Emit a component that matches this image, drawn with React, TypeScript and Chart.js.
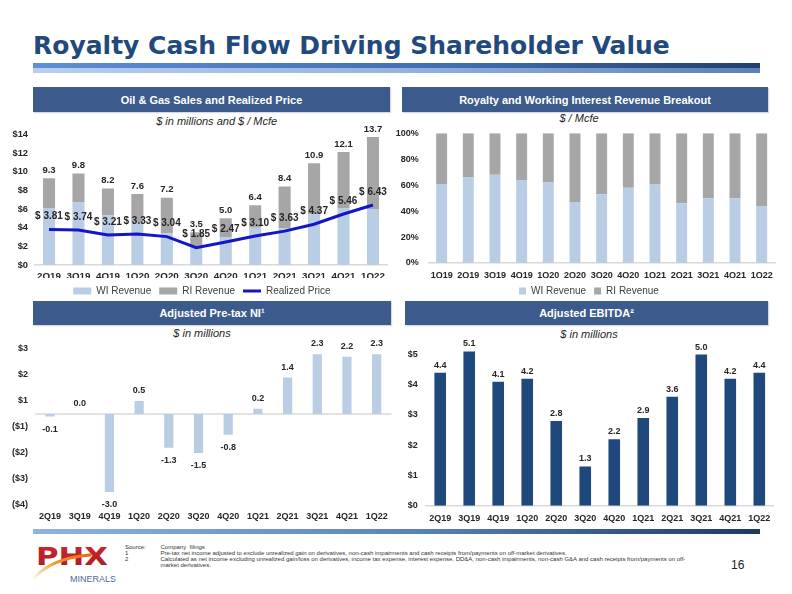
import React, { useEffect, useRef } from "react";
import { Chart, registerables } from "chart.js";

Chart.register(...registerables);

// ---------------- DATA ----------------
const QUARTERS = ["2Q19", "3Q19", "4Q19", "1Q20", "2Q20", "3Q20", "4Q20", "1Q21", "2Q21", "3Q21", "4Q21", "1Q22"];
const QUARTERS_BREAKOUT = ["1Q19", "2Q19", "3Q19", "4Q19", "1Q20", "2Q20", "3Q20", "4Q20", "1Q21", "2Q21", "3Q21", "4Q21", "1Q22"];

// Oil & Gas Sales ($ millions) and realized price ($ / Mcfe)
const WI_REVENUE = [6.1, 6.7, 5.3, 4.6, 3.4, 1.9, 3.0, 4.0, 3.9, 5.4, 6.1, 6.0];
const RI_REVENUE = [3.2, 3.1, 2.9, 3.0, 3.8, 1.6, 2.0, 2.4, 4.5, 5.5, 6.0, 7.7];
const TOTAL_LABELS = ["9.3", "9.8", "8.2", "7.6", "7.2", "3.5", "5.0", "6.4", "8.4", "10.9", "12.1", "13.7"];
const REALIZED_PRICE = [3.81, 3.74, 3.21, 3.33, 3.04, 1.85, 2.47, 3.1, 3.63, 4.37, 5.46, 6.43];

// Royalty / working interest share (%)
const WI_SHARE = [61, 66, 68, 64, 62, 47, 53, 58, 60.5, 46, 50, 50, 44];
const RI_SHARE = [39, 34, 32, 36, 38, 53, 47, 42, 39.5, 54, 50, 50, 56];

// Adjusted pre-tax NI ($ millions)
const PRETAX_NI = [-0.1, 0.0, -3.0, 0.5, -1.3, -1.5, -0.8, 0.2, 1.4, 2.3, 2.2, 2.3];
const PRETAX_TICK_VALUES = [-3.5, -2.5, -1.5, -0.5, 0.5, 1.5, 2.5];
const PRETAX_TICK_LABELS = ["($4)", "($3)", "($2)", "($1)", "$1", "$2", "$3"];

// Adjusted EBITDA ($ millions)
const EBITDA = [4.4, 5.1, 4.1, 4.2, 2.8, 1.3, 2.2, 2.9, 3.6, 5.0, 4.2, 4.4];

// ---------------- STYLE ----------------
const FONT = '"Liberation Sans", Arial, Helvetica, sans-serif';
const WI_COLOR = "#b9cde5";
const RI_COLOR = "#a6a6a6";
const LINE_COLOR = "#1515c8";
const NAVY = "#1f497d";
const HEADER_BG = "#3c5b8c";
const AXIS_LINE = "#d9d9d9";
const TEXT = "#262626";

Chart.defaults.font.family = FONT;
Chart.defaults.color = TEXT;

type Box = { left: number; top: number; width: number; height: number; areaLeft: number; areaRight: number; areaTop: number; areaBottom: number; xH: number; legendH: number; labelRight: number; legendShift: number };

// y axis box occupies the canvas from its left edge to the plot area
const yWidth = (b: Box) => b.areaLeft - b.left;
function padFor(b: Box) {
  return {
    left: 0,
    right: b.left + b.width - b.areaRight,
    top: b.areaTop - b.top,
    bottom: Math.max(0, b.top + b.height - b.areaBottom - b.xH - b.legendH),
  };
}
const yTickPad = (b: Box) => b.areaLeft - b.labelRight;

function fix(size: number) {
  return (scale: any) => {
    if (scale.isHorizontal()) scale.height = size;
    else scale.width = size;
  };
}

const shiftLegend = (dx: number) => ({
  id: "shiftLegend",
  afterLayout(chart: any) {
    if (chart.legend && dx) {
      chart.legend.left += dx;
      chart.legend.right += dx;
    }
  },
});

function legendOptions(boxW: number) {
  return {
    display: true,
    position: "bottom" as const,
    align: "center" as const,
    labels: {
      usePointStyle: true,
      pointStyleWidth: boxW,
      boxHeight: 7,
      padding: 8,
      color: "#404040",
      font: { size: 10, family: FONT },
      sort: (a: any, b: any) => a.datasetIndex - b.datasetIndex,
      generateLabels: (chart: any) => {
        const base = (Chart.defaults.plugins.legend.labels as any).generateLabels(chart);
        return base.map((it: any) => {
          const ds = chart.data.datasets[it.datasetIndex];
          const isLine = ds.type === "line";
          return { ...it, pointStyle: isLine ? "line" : "rect", lineWidth: isLine ? 3 : 0, strokeStyle: isLine ? ds.borderColor : it.strokeStyle };
        });
      },
    },
  };
}

const catAxis = (xH: number, pad: number, border: boolean, size = 9) => ({
  type: "category" as const,
  offset: true,
  grid: { display: false, drawTicks: false },
  border: { display: border, color: AXIS_LINE, width: 1.5 },
  ticks: { font: { size, weight: "bold" as const }, color: TEXT, padding: pad, maxRotation: 0, autoSkip: false },
  afterFit: fix(xH),
});

const valueAxis = (b: Box, extra: any, size = 9) => ({
  grid: { display: false, drawTicks: false },
  border: { display: false },
  afterFit: fix(yWidth(b)),
  ...extra,
  ticks: { padding: yTickPad(b), font: { size, weight: "bold" }, color: TEXT, autoSkip: false, ...extra.ticks },
});

// -------- chart 1: Oil & Gas Sales and Realized Price --------
const BOX1: Box = { left: 0, top: 112, width: 396, height: 194, areaLeft: 34.3, areaRight: 387.7, areaTop: 134.3, areaBottom: 265, xH: 13, legendH: 28, labelRight: 28, legendShift: 8 };
function config1(): any {
  const labelsPlugin = {
    id: "c1labels",
    afterDatasetsDraw(chart: any) {
      const ctx = chart.ctx;
      const ri = chart.getDatasetMeta(1);
      const line = chart.getDatasetMeta(2);
      ctx.save();
      ctx.fillStyle = TEXT;
      ctx.textAlign = "center";
      ctx.textBaseline = "middle";
      ctx.font = `bold 9.5px ${FONT}`;
      ri.data.forEach((el: any, i: number) => ctx.fillText(TOTAL_LABELS[i], el.x, el.y - 8));
      ctx.font = `bold 10px ${FONT}`;
      line.data.forEach((pt: any, i: number) => ctx.fillText("$ " + REALIZED_PRICE[i].toFixed(2), pt.x, pt.y - 13));
      ctx.restore();
    },
  };
  return {
    type: "bar",
    data: {
      labels: QUARTERS,
      datasets: [
        { label: "WI Revenue", data: WI_REVENUE, backgroundColor: WI_COLOR, stack: "rev", order: 2, categoryPercentage: 1, barPercentage: 0.41 },
        { label: "RI Revenue", data: RI_REVENUE, backgroundColor: RI_COLOR, stack: "rev", order: 2, categoryPercentage: 1, barPercentage: 0.41 },
        { type: "line", label: "Realized Price", data: REALIZED_PRICE, borderColor: LINE_COLOR, backgroundColor: LINE_COLOR, borderWidth: 3, pointRadius: 0, tension: 0, order: 0 },
      ],
    },
    options: {
      responsive: false,
      animation: false,
      devicePixelRatio: 1,
      layout: { padding: padFor(BOX1) },
      plugins: { legend: legendOptions(18), tooltip: { enabled: false } },
      scales: {
        x: { ...catAxis(BOX1.xH, 5.5, true, 9.8), stacked: true },
        y: valueAxis(BOX1, { stacked: true, min: 0, max: 14, ticks: { stepSize: 2, callback: (v: any) => "$" + v } }, 9.3),
      },
    },
    plugins: [labelsPlugin, shiftLegend(BOX1.legendShift)],
  };
}

// -------- chart 2: Royalty and Working Interest Revenue Breakout --------
const BOX2: Box = { left: 396, top: 112, width: 392, height: 194, areaLeft: 428.3, areaRight: 775, areaTop: 133.3, areaBottom: 264, xH: 15, legendH: 28, labelRight: 418.7, legendShift: 3.5 };
function config2(): any {
  return {
    type: "bar",
    data: {
      labels: QUARTERS_BREAKOUT,
      datasets: [
        { label: "WI Revenue", data: WI_SHARE, backgroundColor: WI_COLOR, stack: "s", categoryPercentage: 1, barPercentage: 0.41 },
        { label: "RI Revenue", data: RI_SHARE, backgroundColor: RI_COLOR, stack: "s", categoryPercentage: 1, barPercentage: 0.41 },
      ],
    },
    options: {
      responsive: false,
      animation: false,
      devicePixelRatio: 1,
      layout: { padding: padFor(BOX2) },
      plugins: { legend: legendOptions(7), tooltip: { enabled: false } },
      scales: {
        x: { ...catAxis(BOX2.xH, 7, true), stacked: true },
        y: valueAxis(BOX2, { stacked: true, min: 0, max: 100, ticks: { stepSize: 20, callback: (v: any) => v + "%" } }),
      },
    },
    plugins: [shiftLegend(BOX2.legendShift)],
  };
}

// -------- chart 3: Adjusted Pre-tax NI --------
const BOX3: Box = { left: 0, top: 326, width: 396, height: 201, areaLeft: 35.2, areaRight: 391.5, areaTop: 349, areaBottom: 505, xH: 22, legendH: 0, labelRight: 28, legendShift: 0 };
function config3(): any {
  const plugin = {
    id: "c3extras",
    beforeDatasetsDraw(chart: any) {
      const { ctx, chartArea } = chart;
      const y0 = chart.scales.y.getPixelForValue(0);
      ctx.save();
      ctx.strokeStyle = AXIS_LINE;
      ctx.lineWidth = 1.5;
      ctx.beginPath();
      ctx.moveTo(chartArea.left, y0);
      ctx.lineTo(chartArea.right, y0);
      ctx.stroke();
      ctx.restore();
    },
    afterDatasetsDraw(chart: any) {
      const ctx = chart.ctx;
      const meta = chart.getDatasetMeta(0);
      ctx.save();
      ctx.fillStyle = TEXT;
      ctx.textAlign = "center";
      ctx.textBaseline = "middle";
      ctx.font = `bold 9px ${FONT}`;
      meta.data.forEach((el: any, i: number) => {
        const v = PRETAX_NI[i];
        const y = v >= 0 ? el.y - 10.5 : el.y + 13;
        ctx.fillText(v.toFixed(1), el.x, y);
      });
      ctx.restore();
    },
  };
  return {
    type: "bar",
    data: {
      labels: QUARTERS,
      datasets: [{ label: "Adjusted Pre-tax NI", data: PRETAX_NI, backgroundColor: WI_COLOR, categoryPercentage: 1, barPercentage: 0.31 }],
    },
    options: {
      responsive: false,
      animation: false,
      devicePixelRatio: 1,
      layout: { padding: padFor(BOX3) },
      plugins: { legend: { display: false }, tooltip: { enabled: false } },
      scales: {
        x: catAxis(BOX3.xH, 6, false),
        y: valueAxis(BOX3, {
          min: PRETAX_TICK_VALUES[0],
          max: PRETAX_TICK_VALUES[PRETAX_TICK_VALUES.length - 1],
          afterBuildTicks: (scale: any) => {
            scale.ticks = PRETAX_TICK_VALUES.map((v) => ({ value: v }));
          },
          ticks: { callback: (_v: any, i: number) => PRETAX_TICK_LABELS[i] },
        }),
      },
    },
    plugins: [plugin],
  };
}

// -------- chart 4: Adjusted EBITDA --------
const BOX4: Box = { left: 396, top: 326, width: 396, height: 202, areaLeft: 425.7, areaRight: 773.8, areaTop: 332.45, areaBottom: 505.7, xH: 22, legendH: 0, labelRight: 417.7, legendShift: 0 };
function config4(): any {
  const plugin = {
    id: "c4labels",
    afterDatasetsDraw(chart: any) {
      const ctx = chart.ctx;
      const meta = chart.getDatasetMeta(0);
      ctx.save();
      ctx.fillStyle = TEXT;
      ctx.textAlign = "center";
      ctx.textBaseline = "middle";
      ctx.font = `bold 9px ${FONT}`;
      meta.data.forEach((el: any, i: number) => ctx.fillText(EBITDA[i].toFixed(1), el.x, el.y - 7.5));
      ctx.restore();
    },
  };
  return {
    type: "bar",
    data: {
      labels: QUARTERS,
      datasets: [{ label: "Adjusted EBITDA", data: EBITDA, backgroundColor: NAVY, categoryPercentage: 1, barPercentage: 0.4 }],
    },
    options: {
      responsive: false,
      animation: false,
      devicePixelRatio: 1,
      layout: { padding: padFor(BOX4) },
      plugins: { legend: { display: false }, tooltip: { enabled: false } },
      scales: {
        x: catAxis(BOX4.xH, 7, true),
        y: valueAxis(BOX4, { min: 0, max: 5.5, ticks: { stepSize: 1, includeBounds: false, callback: (v: any) => "$" + v } }),
      },
    },
    plugins: [plugin],
  };
}

function ChartCanvas({ box, make }: { box: Box; make: () => any }) {
  const ref = useRef<HTMLCanvasElement | null>(null);
  useEffect(() => {
    if (!ref.current) return;
    const chart = new Chart(ref.current, make());
    return () => chart.destroy();
  }, []);
  return (
    <canvas
      ref={ref}
      width={box.width}
      height={box.height}
      style={{ position: "absolute", left: box.left, top: box.top, width: box.width, height: box.height }}
    />
  );
}

const abs = (left: number, top: number, extra: React.CSSProperties = {}): React.CSSProperties => ({ position: "absolute", left, top, ...extra });

function Header({ left, top, width, height, text }: { left: number; top: number; width: number; height: number; text: string }) {
  return (
    <div
      style={abs(left, top, {
        width,
        height,
        background: HEADER_BG,
        color: "#fff",
        font: `bold 11px ${FONT}`,
        display: "flex",
        alignItems: "center",
        justifyContent: "center",
        boxShadow: "1px 1px 1px rgba(0,0,0,0.15)",
      })}
    >
      {text}
    </div>
  );
}

function Subtitle({ cx, cy, text }: { cx: number; cy: number; text: string }) {
  return (
    <div style={abs(cx - 100, cy - 7, { width: 200, height: 14, lineHeight: "14px", textAlign: "center", font: `italic 11px ${FONT}`, color: TEXT })}>{text}</div>
  );
}

export default function App() {
  const foot: React.CSSProperties = { font: `6px "Liberation Sans Narrow", "Liberation Sans", Arial, sans-serif`, color: "#333", lineHeight: "6px", whiteSpace: "nowrap" };
  return (
    <div style={{ position: "fixed", left: 0, top: 0, width: 792, height: 594, background: "#fff", overflow: "hidden" }}>
      {/* title */}
      <div style={abs(33, 32, { font: `bold 25px "DejaVu Sans", sans-serif`, color: "#22497c", lineHeight: "28px", whiteSpace: "nowrap" })}>
        Royalty Cash Flow Driving Shareholder Value
      </div>
      <div style={abs(33, 63.3, { width: 727, height: 4.4, background: "linear-gradient(to right, #5b8fd6, #3f6cae 60%, #1f3f6e)" })} />
      <div style={abs(33, 67.7, { width: 727, height: 5, background: "linear-gradient(to right, #b8cfec, #94b4df 50%, #5a80b6)" })} />

      <Header left={33} top={87.3} width={357} height={24.5} text="Oil & Gas Sales and Realized Price" />
      <Header left={402} top={87.3} width={366} height={24.5} text="Royalty and Working Interest Revenue Breakout" />
      <Header left={33} top={300.7} width={358} height={24.3} text="Adjusted Pre-tax NI¹" />
      <Header left={405} top={300.5} width={363} height={24.5} text="Adjusted EBITDA²" />

      <Subtitle cx={216.7} cy={121.7} text="$ in millions and $ / Mcfe" />
      <Subtitle cx={579} cy={119} text="$ / Mcfe" />
      <Subtitle cx={202} cy={334} text="$ in millions" />
      <Subtitle cx={589} cy={335} text="$ in millions" />

      <ChartCanvas box={BOX1} make={config1} />
      <ChartCanvas box={BOX2} make={config2} />
      <ChartCanvas box={BOX3} make={config3} />
      <ChartCanvas box={BOX4} make={config4} />

      {/* footer bar */}
      <div style={abs(33, 529.3, { width: 727, height: 4.5, background: "linear-gradient(to right, #8fb4e3, #5d86c0 50%, #1f3864)" })} />

      {/* logo */}
      <svg style={abs(28, 538)} width={95} height={52} viewBox="0 0 95 52">
        <defs>
          <linearGradient id="phxred" x1="0" y1="0" x2="0" y2="1">
            <stop offset="0" stopColor="#d4262e" />
            <stop offset="1" stopColor="#a51c24" />
          </linearGradient>
          <linearGradient id="swoosh" x1="0" y1="1" x2="1" y2="0">
            <stop offset="0" stopColor="#f7c66b" stopOpacity="0.2" />
            <stop offset="0.5" stopColor="#f39a2c" />
            <stop offset="1" stopColor="#e8671f" />
          </linearGradient>
        </defs>
        <text x="8" y="26.5" fill="url(#phxred)" style={{ font: `bold 25px "DejaVu Sans", sans-serif` }} textLength={72} lengthAdjust="spacingAndGlyphs">
          PHX
        </text>
        <path d="M6 40 Q 24 20 62 17" stroke="url(#swoosh)" strokeWidth={3} fill="none" strokeLinecap="round" />
        <text x="42" y="43.5" fill="#4f6d95" style={{ font: `9px ${FONT}` }} textLength={46} lengthAdjust="spacingAndGlyphs">
          MINERALS
        </text>
      </svg>

      {/* footnotes */}
      <div style={abs(125, 543.7, foot)}>Source:</div>
      <div style={abs(125, 550.3, foot)}>1</div>
      <div style={abs(125, 556, foot)}>2</div>
      <div style={abs(160.5, 543.7, foot)}>Company&nbsp; filings</div>
      <div style={abs(160.5, 550.3, foot)}>
        Pre-tax net income adjusted to exclude unrealized gain on derivatives, non-cash impairments and cash receipts from/payments on off-market derivatives.
      </div>
      <div style={abs(160.5, 556, foot)}>
        Calculated as net income excluding unrealized gain/loss on derivatives, income tax expense, interest expense, DD&amp;A, non-cash impairments, non-cash G&amp;A and cash receipts from/payments on off-
      </div>
      <div style={abs(160.5, 561.5, foot)}>market derivatives.</div>

      <div style={abs(731, 558, { font: `12px "Liberation Sans Narrow", "Liberation Sans", Arial, sans-serif`, color: "#222", lineHeight: "14px" })}>16</div>
    </div>
  );
}
